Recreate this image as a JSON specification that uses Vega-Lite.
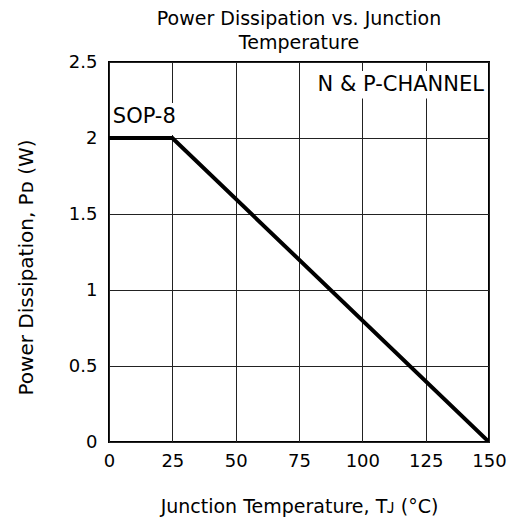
{
  "$schema": "https://vega.github.io/schema/vega-lite/v6.json",
  "width": 380,
  "height": 380,
  "autosize": {"type": "none"},
  "padding": {"left": 109, "top": 62, "right": 19, "bottom": 78},
  "background": "white",
  "config": {
    "font": "DejaVu Sans",
    "view": {"stroke": "black", "strokeWidth": 2},
    "axis": {
      "grid": true, "gridColor": "#222", "gridWidth": 1, "gridOpacity": 1,
      "domain": false, "ticks": false,
      "labelFont": "DejaVu Sans", "labelFontSize": 18, "labelColor": "black",
      "titleFont": "DejaVu Sans", "titleFontSize": 19, "titleFontWeight": "normal", "titleColor": "black"
    }
  },
  "title": {
    "text": ["Power Dissipation vs. Junction", "Temperature"],
    "font": "DejaVu Sans", "fontSize": 19, "fontWeight": "normal", "color": "black",
    "anchor": "middle", "lineHeight": 24, "offset": 0
  },
  "datasets": {
    "curve": [
      {"t": 0, "p": 2},
      {"t": 25, "p": 2},
      {"t": 150, "p": 0}
    ],
    "boxes": [
      {"x1": 79.5, "x2": 148.5, "y1": 2.26, "y2": 2.44},
      {"x1": 0.5, "x2": 30, "y1": 2.02, "y2": 2.23}
    ],
    "rightlabels": [
      {"t": 148.0, "p": 2.35, "label": "N & P-CHANNEL"}
    ],
    "leftlabels": [
      {"t": 1.5, "p": 2.14, "label": "SOP-8"}
    ]
  },
  "layer": [
    {
      "data": {"name": "boxes"},
      "mark": {"type": "rect", "fill": "white", "stroke": null},
      "encoding": {
        "x": {"field": "x1", "type": "quantitative", "scale": {"domain": [0, 150], "nice": false},
              "axis": {"values": [0, 25, 50, 75, 100, 125, 150], "labelPadding": 10, "title": "Junction Temperature, Tᴊ (°C)", "titlePadding": 27, "labelFlush": false}},
        "x2": {"field": "x2"},
        "y": {"field": "y1", "type": "quantitative", "scale": {"domain": [0, 2.5], "nice": false},
              "axis": {"values": [0, 0.5, 1, 1.5, 2, 2.5], "labelExpr": "datum.value", "labelPadding": 12, "title": "Power Dissipation, Pᴅ (W)", "titlePadding": 32, "titleFontSize": 20, "titleY": 205, "labelFlush": false}},
        "y2": {"field": "y2"}
      }
    },
    {
      "data": {"name": "curve"},
      "mark": {"type": "line", "color": "black", "strokeWidth": 4, "strokeJoin": "miter", "strokeCap": "butt", "clip": true},
      "encoding": {
        "x": {"field": "t", "type": "quantitative"},
        "y": {"field": "p", "type": "quantitative"}
      }
    },
    {
      "data": {"name": "rightlabels"},
      "mark": {"type": "text", "fontSize": 21, "font": "DejaVu Sans", "color": "black", "baseline": "middle", "align": "right"},
      "encoding": {
        "x": {"field": "t", "type": "quantitative"},
        "y": {"field": "p", "type": "quantitative"},
        "text": {"field": "label"}
      }
    },
    {
      "data": {"name": "leftlabels"},
      "mark": {"type": "text", "fontSize": 21, "font": "DejaVu Sans", "color": "black", "baseline": "middle", "align": "left"},
      "encoding": {
        "x": {"field": "t", "type": "quantitative"},
        "y": {"field": "p", "type": "quantitative"},
        "text": {"field": "label"}
      }
    }
  ]
}
